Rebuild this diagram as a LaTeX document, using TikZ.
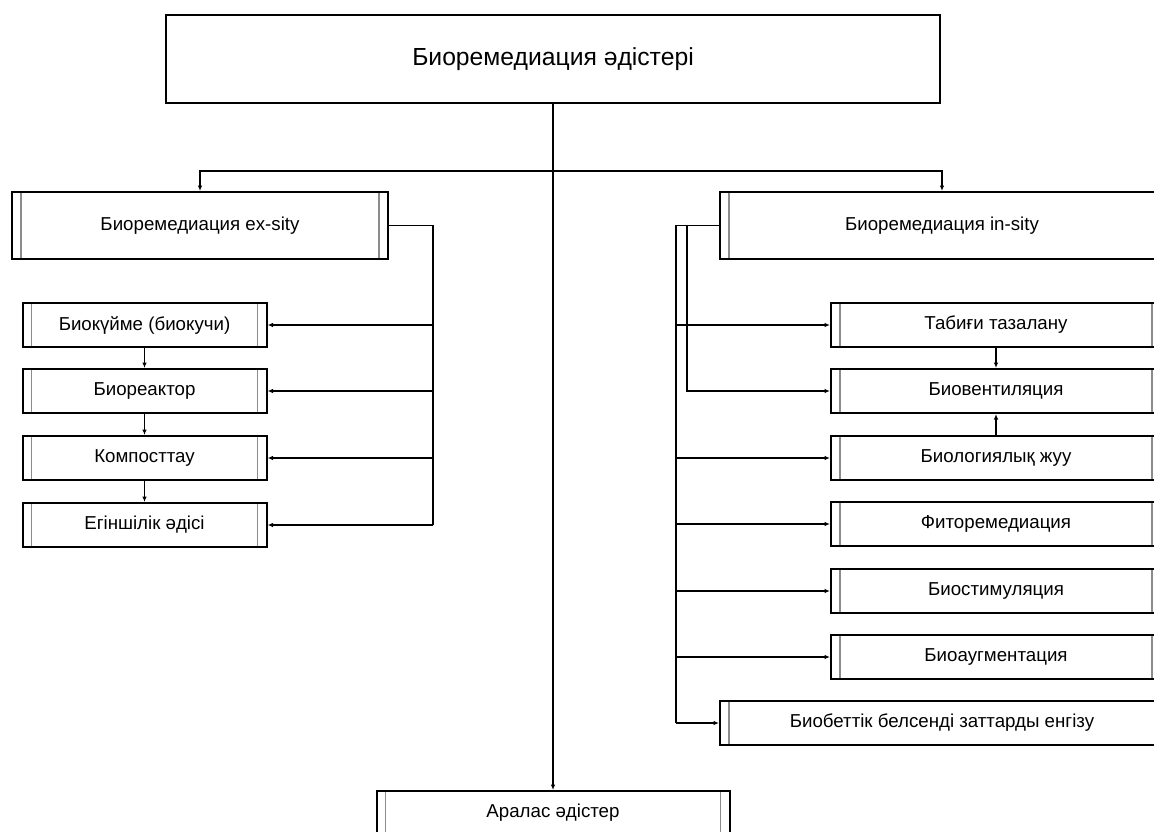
\documentclass[tikz,border=0pt]{standalone}
\usepackage{fontspec}
\setmainfont{Liberation Sans}
\usetikzlibrary{arrows.meta}

\begin{document}
\begin{tikzpicture}
    [x=1pt, y=-1pt,
    head/.style={draw, line width=2pt, minimum width=774pt, minimum height=88pt, font=\fontsize{24.7}{29}\selectfont},
    proc/.style={draw, line width=2pt, minimum height=44pt, inner sep=0pt, font=\fontsize{18.7}{22}\selectfont,
        path picture={\draw[black!45, line width=1.6pt]
            ([xshift=9pt]path picture bounding box.north west) -- ([xshift=9pt]path picture bounding box.south west)
            ([xshift=-9pt]path picture bounding box.north east) -- ([xshift=-9pt]path picture bounding box.south east);}},
    wire/.style={black, line width=1.3pt},
    conn/.style={wire, -{Latex[length=5.5pt, width=4.5pt]}}]

    \useasboundingbox (0,0) rectangle (1154,831);
    \clip (0,0) rectangle (1154,831);

    % top and the two main groups
    \node[head] (top) at (553,59) {Биоремедиация әдістері};
    \node[proc, minimum width=376pt, minimum height=67pt] (exs) at (200,225.5) {Биоремедиация ex-sity};
    \node[proc, minimum width=444pt, minimum height=67pt] (ins) at (942,225.5) {Биоремедиация in-sity};

    % ex-sity methods
    \node[proc, minimum width=244pt] (pile) at (144.5,325) {Биокүйме (биокучи)};
    \node[proc, minimum width=244pt] (reactor) at (144.5,391) {Биореактор};
    \node[proc, minimum width=244pt] (compost) at (144.5,458) {Компосттау};
    \node[proc, minimum width=244pt] (farm) at (144.5,525) {Егіншілік әдісі};

    % in-sity methods
    \node[proc, minimum width=330pt] (natural) at (996,325) {Табиғи тазалану};
    \node[proc, minimum width=330pt] (vent) at (996,391) {Биовентиляция};
    \node[proc, minimum width=330pt] (wash) at (996,458) {Биологиялық жуу};
    \node[proc, minimum width=330pt] (phyto) at (996,524) {Фиторемедиация};
    \node[proc, minimum width=330pt] (stim) at (996,591) {Биостимуляция};
    \node[proc, minimum width=330pt] (augm) at (996,657) {Биоаугментация};
    \node[proc, minimum width=444pt] (surf) at (942,723) {Биобеттік белсенді заттарды енгізу};

    % mixed methods
    \node[proc, minimum width=353pt] (mix) at (553,813) {Аралас әдістер};

    % bus points
    \coordinate (split) at (553,171);
    \coordinate (lbus) at (433,225.5);
    \coordinate (rbus) at (676,225.5);
    \coordinate (ibus) at (687,225.5);

    \draw[conn] (top.south) -- (mix.north);
    \draw[conn] (split) -| (exs.north);
    \draw[conn] (split) -| (ins.north);

    % left side
    \draw[wire] (exs.east) -| (lbus |- farm.east);
    \draw[conn] (lbus |- pile.east) -- (pile.east);
    \draw[conn] (lbus |- reactor.east) -- (reactor.east);
    \draw[conn] (lbus |- compost.east) -- (compost.east);
    \draw[conn] (lbus |- farm.east) -- (farm.east);
    \draw[conn] (pile.south) -- (reactor.north);
    \draw[conn] (reactor.south) -- (compost.north);
    \draw[conn] (compost.south) -- (farm.north);

    % right side
    \draw[wire] (ins.west) -| (rbus |- surf.west);
    \draw[conn] (ibus) |- (vent.west);
    \draw[conn] (rbus |- natural.west) -- (natural.west);
    \draw[conn] (rbus |- wash.west) -- (wash.west);
    \draw[conn] (rbus |- phyto.west) -- (phyto.west);
    \draw[conn] (rbus |- stim.west) -- (stim.west);
    \draw[conn] (rbus |- augm.west) -- (augm.west);
    \draw[conn] (rbus |- surf.west) -- (surf.west);
    \draw[conn] (natural.south) -- (vent.north);
    \draw[conn] (wash.north) -- (vent.south);
\end{tikzpicture}
\end{document}
